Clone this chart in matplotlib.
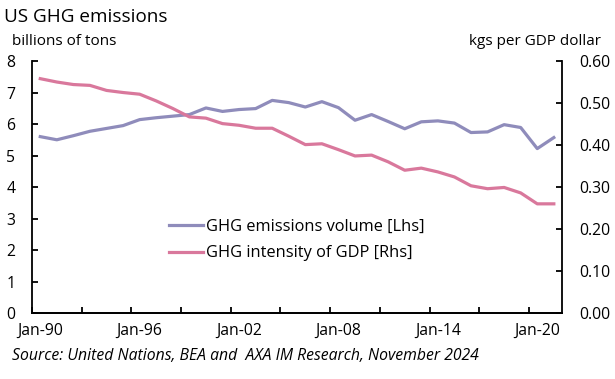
import matplotlib.pyplot as plt
from matplotlib.ticker import FixedLocator, FormatStrFormatter


YEARS = list(range(1990, 2022))
EMISSIONS = [
	5.60, 5.50, 5.63, 5.77, 5.86, 5.95, 6.14, 6.20, 6.25, 6.30,
	6.51, 6.40, 6.46, 6.49, 6.75, 6.68, 6.54, 6.71, 6.52, 6.12,
	6.30, 6.08, 5.85, 6.07, 6.10, 6.03, 5.73, 5.75, 5.98, 5.89,
	5.22, 5.57,
]
INTENSITY = [
	0.558, 0.550, 0.544, 0.542, 0.530, 0.525, 0.521, 0.505, 0.487, 0.467,
	0.464, 0.451, 0.447, 0.440, 0.440, 0.421, 0.401, 0.403, 0.389, 0.374,
	0.376, 0.360, 0.340, 0.345, 0.336, 0.324, 0.303, 0.296, 0.299, 0.286,
	0.260, 0.260,
]
LABEL_YEARS = [1990, 1996, 2002, 2008, 2014, 2020]

PURPLE = "#8f8cbb"
PINK = "#d9789c"
FS = 11.3

plt.rcParams["font.family"] = ["Open Sans", "DejaVu Sans"]

fig = plt.figure(figsize=(6.15, 3.79), dpi=100)
ax = fig.add_axes([0.052, 0.174, 0.862, 0.665])
ax2 = ax.twinx()

# category axis: points sit in the middle of each year slot
x = [i + 0.5 for i in range(len(YEARS))]
ax.plot(x, EMISSIONS, color=PURPLE, linewidth=2.3, label="GHG emissions volume [Lhs]")
ax2.plot(x, INTENSITY, color=PINK, linewidth=2.3, label="GHG intensity of GDP [Rhs]")

ax.set_xlim(0, len(YEARS))
ax.set_ylim(0, 8)
ax2.set_ylim(0, 0.6)

ax.xaxis.set_major_locator(FixedLocator(range(0, len(YEARS) + 1, 3)))
ax.set_xticklabels([])
ax.xaxis.set_minor_locator(FixedLocator([YEARS.index(y) + 0.5 for y in LABEL_YEARS]))
ax.set_xticklabels([f"Jan-{y % 100:02d}" for y in LABEL_YEARS], minor=True)
ax.tick_params(axis="x", which="minor", length=0, pad=7, labelsize=FS)
ax.tick_params(axis="x", which="major", direction="in", length=4, width=1.3)

ax.set_yticks(range(0, 9))
ax.tick_params(axis="y", direction="in", length=4, width=1.3, pad=12, labelsize=FS)
ax2.set_yticks([0.0, 0.1, 0.2, 0.3, 0.4, 0.5, 0.6])
ax2.yaxis.set_major_formatter(FormatStrFormatter("%.2f"))
ax2.tick_params(axis="y", direction="in", length=4, width=1.3, pad=12, labelsize=FS)

for a in (ax, ax2):
	a.spines["top"].set_visible(False)
	for side in ("left", "right", "bottom"):
		a.spines[side].set_linewidth(1.3)
ax.spines["right"].set_visible(False)
ax2.spines["left"].set_visible(False)

lines = ax.get_lines() + ax2.get_lines()
ax.legend(
	lines,
	[l.get_label() for l in lines],
	loc="center left",
	bbox_to_anchor=(0.23, 0.29),
	frameon=False,
	fontsize=11.8,
	handlelength=2.1,
	handletextpad=0.2,
	labelspacing=0.65,
)

fig.text(0.007, 0.955, "US GHG emissions", fontsize=13.6, va="center", ha="left")
fig.text(0.02, 0.89, "billions of tons", fontsize=11, va="center", ha="left")
fig.text(0.977, 0.89, "kgs per GDP dollar", fontsize=11, va="center", ha="right")
fig.text(
	0.02, 0.06,
	"Source: United Nations, BEA and  AXA IM Research, November 2024",
	fontsize=FS, style="italic", va="center", ha="left",
)

fig.savefig("out.png", dpi=100)
